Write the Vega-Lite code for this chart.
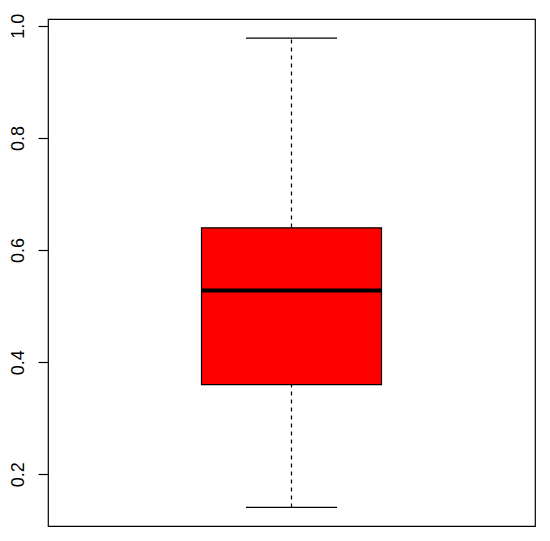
{
  "$schema": "https://vega.github.io/schema/vega-lite/v6.json",
  "autosize": "none",
  "padding": {"left": 48, "top": 19, "right": 15, "bottom": 15},
  "width": 487,
  "height": 507,
  "background": "white",
  "config": {
    "view": {"stroke": "black", "strokeWidth": 1.2},
    "font": "Liberation Sans"
  },
  "data": {"values": [{"g": "a", "min": 0.141, "q1": 0.360, "median": 0.528, "q3": 0.6396, "max": 0.978}]},
  "encoding": {
    "x": {"field": "g", "type": "nominal", "axis": null}
  },
  "layer": [
    {
      "mark": {"type": "rule", "color": "black", "strokeWidth": 1.2, "strokeDash": [4, 4]},
      "encoding": {
        "y": {"field": "min", "type": "quantitative",
          "scale": {"domain": [0.1078, 1.012], "nice": false, "zero": false},
          "axis": {
            "title": null, "values": [0.2, 0.4, 0.6, 0.8, 1.0], "format": ".1f",
            "grid": false, "domain": false, "tickColor": "black", "tickSize": 10, "tickWidth": 1.2,
            "labelAngle": -90, "labelFontSize": 18, "labelColor": "black",
            "labelPadding": 11, "labelFont": "Liberation Sans"
          }},
        "y2": {"field": "max"}
      }
    },
    {
      "mark": {"type": "bar", "fill": "#ff0000", "stroke": "black", "strokeWidth": 1.2, "width": 180},
      "encoding": {
        "y": {"field": "q1", "type": "quantitative"},
        "y2": {"field": "q3"}
      }
    },
    {
      "mark": {"type": "tick", "color": "black", "size": 180, "thickness": 4, "opacity": 1},
      "encoding": {"y": {"field": "median", "type": "quantitative"}}
    },
    {
      "mark": {"type": "tick", "color": "black", "size": 91, "thickness": 1.2, "opacity": 1},
      "encoding": {"y": {"field": "min", "type": "quantitative"}}
    },
    {
      "mark": {"type": "tick", "color": "black", "size": 91, "thickness": 1.2, "opacity": 1},
      "encoding": {"y": {"field": "max", "type": "quantitative"}}
    }
  ]
}
